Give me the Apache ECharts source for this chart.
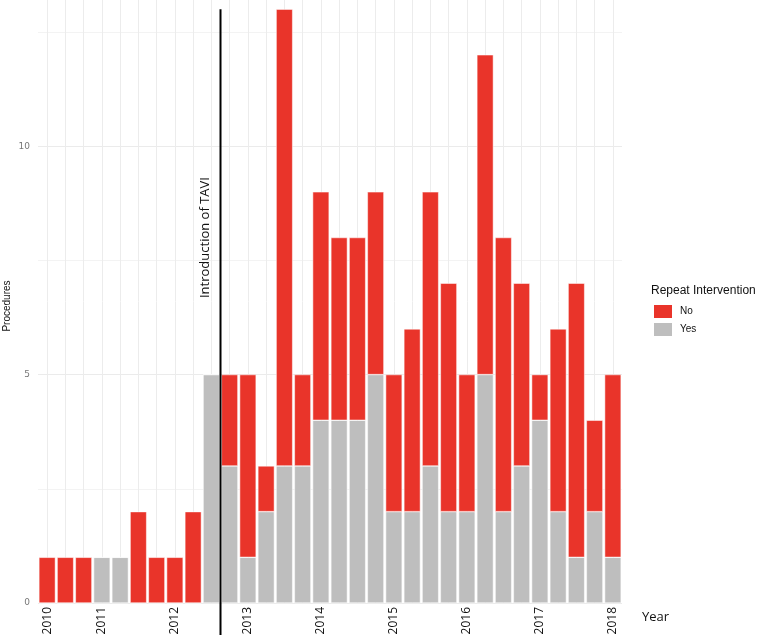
<!DOCTYPE html>
<html>
<head>
<meta charset="utf-8">
<script src="https://cdn.jsdelivr.net/npm/echarts@6/dist/echarts.min.js"></script>
<style>html,body{margin:0;padding:0;background:#fff}#c{width:769px;height:635px}</style>
</head>
<body>
<div id="c"></div>
<script>
// Quarterly categories 2010 Q1 .. 2017 Q4
const quarters = [];
for (let y = 2010; y <= 2017; y++) { for (let q = 1; q <= 4; q++) quarters.push(y + ' Q' + q); }
const yesValues = [0,0,0,1,1,0,0,0,0,5,3,1,2,3,3,4,4,4,5,2,2,3,2,2,5,2,3,4,2,1,2,1];
const noValues  = [1,1,1,0,0,2,1,1,2,0,2,4,1,10,2,5,4,4,4,3,4,6,5,3,7,6,4,1,4,6,2,4];
const yearTickIdx = [0,3,7,11,15,19,23,27,31];
const yearTickLabels = ['2010','2011','2012','2013','2014','2015','2016','2017','2018'];
const yTickLabels = ['0','5','10'];
const tavi = {afterIdx: 9, labelY: 8, topY: 13, text: 'Introduction of TAVI'};

const RED = '#E9342A', GREY = '#BEBEBE';
const chart = echarts.init(document.getElementById('c'));
chart.setOption({
  animation: false,
  title: {
    text: 'Repeat Intervention', left: 646, top: 280,
    textStyle: {fontFamily: 'Liberation Sans', fontSize: 12, fontWeight: 'normal', color: '#111'}
  },
  legend: {
    data: ['No', 'Yes'], orient: 'vertical', left: 647, top: 298,
    itemWidth: 20, itemHeight: 15, itemGap: 1,
    icon: 'rect',
    textStyle: {fontFamily: 'Liberation Sans', fontSize: 10, color: '#111', padding: [0,0,0,2]}
  },
  grid: {left: 38, right: 147, top: 0, bottom: 32, containLabel: false, outerBoundsMode: 'none'},
  xAxis: {
    type: 'category', data: quarters,
    axisLine: {show: false}, axisTick: {show: false},
    axisLabel: {
      interval: 0, rotate: 90, margin: 4,
      fontFamily: 'Open Sans', fontSize: 12, color: '#111',
      formatter: (v, i) => { const k = yearTickIdx.indexOf(i); return k >= 0 ? yearTickLabels[k] : ''; }
    },
    splitLine: {show: true, interval: 0, alignWithLabel: true, lineStyle: {color: '#ececec', width: 1}}
  },
  yAxis: {
    type: 'value', min: 0, max: 13.2, interval: 2.5,
    axisLine: {show: false}, axisTick: {show: false},
    axisLabel: {
      margin: 8, fontFamily: 'DejaVu Sans', fontSize: 9, color: '#777',
      formatter: v => { const k = yTickLabels.indexOf(String(v)); return k >= 0 ? yTickLabels[k] : ''; }
    },
    splitLine: {show: true, lineStyle: {color: ['#ebebeb','#f3f3f3','#ebebeb','#f3f3f3','#ebebeb','#f3f3f3','rgba(0,0,0,0)'], width: 1}}
  },
  series: [
    {name: 'Yes', type: 'bar', stack: 'all', data: yesValues, barWidth: 16.5,
     itemStyle: {color: GREY, borderColor: '#fff', borderWidth: 0.5}},
    {name: 'No', type: 'bar', stack: 'all', data: noValues, barWidth: 16.5,
     itemStyle: {color: RED, borderColor: '#fff', borderWidth: 0.5}}
  ]
});

function drawAnnotations() {
  const x1 = chart.convertToPixel({xAxisIndex: 0}, tavi.afterIdx);
  const x2 = chart.convertToPixel({xAxisIndex: 0}, tavi.afterIdx + 1);
  const lx = (x1 + x2) / 2;
  const yTop = chart.convertToPixel({yAxisIndex: 0}, tavi.topY);
  const yLab = chart.convertToPixel({yAxisIndex: 0}, tavi.labelY);
  chart.setOption({
    graphic: [
      {type: 'line', shape: {x1: lx, y1: yTop, x2: lx, y2: 635}, style: {stroke: '#000', lineWidth: 2}, z: 100},
      {type: 'text', x: lx - 15, y: yLab, rotation: Math.PI / 2,
       style: {text: tavi.text, fontFamily: 'Open Sans', fontSize: 13, fill: '#111', align: 'center', verticalAlign: 'middle'}, z: 100},
      {type: 'text', x: 642, y: 617,
       style: {text: 'Year', fontFamily: 'Open Sans', fontSize: 13, fill: '#111', align: 'left', verticalAlign: 'middle'}, z: 100},
      {type: 'text', x: 7, y: 306, rotation: Math.PI / 2,
       style: {text: 'Procedures', fontFamily: 'Liberation Sans', fontSize: 10, fill: '#111', align: 'center', verticalAlign: 'middle'}, z: 100}
    ]
  });
}
drawAnnotations();
</script>
</body>
</html>
